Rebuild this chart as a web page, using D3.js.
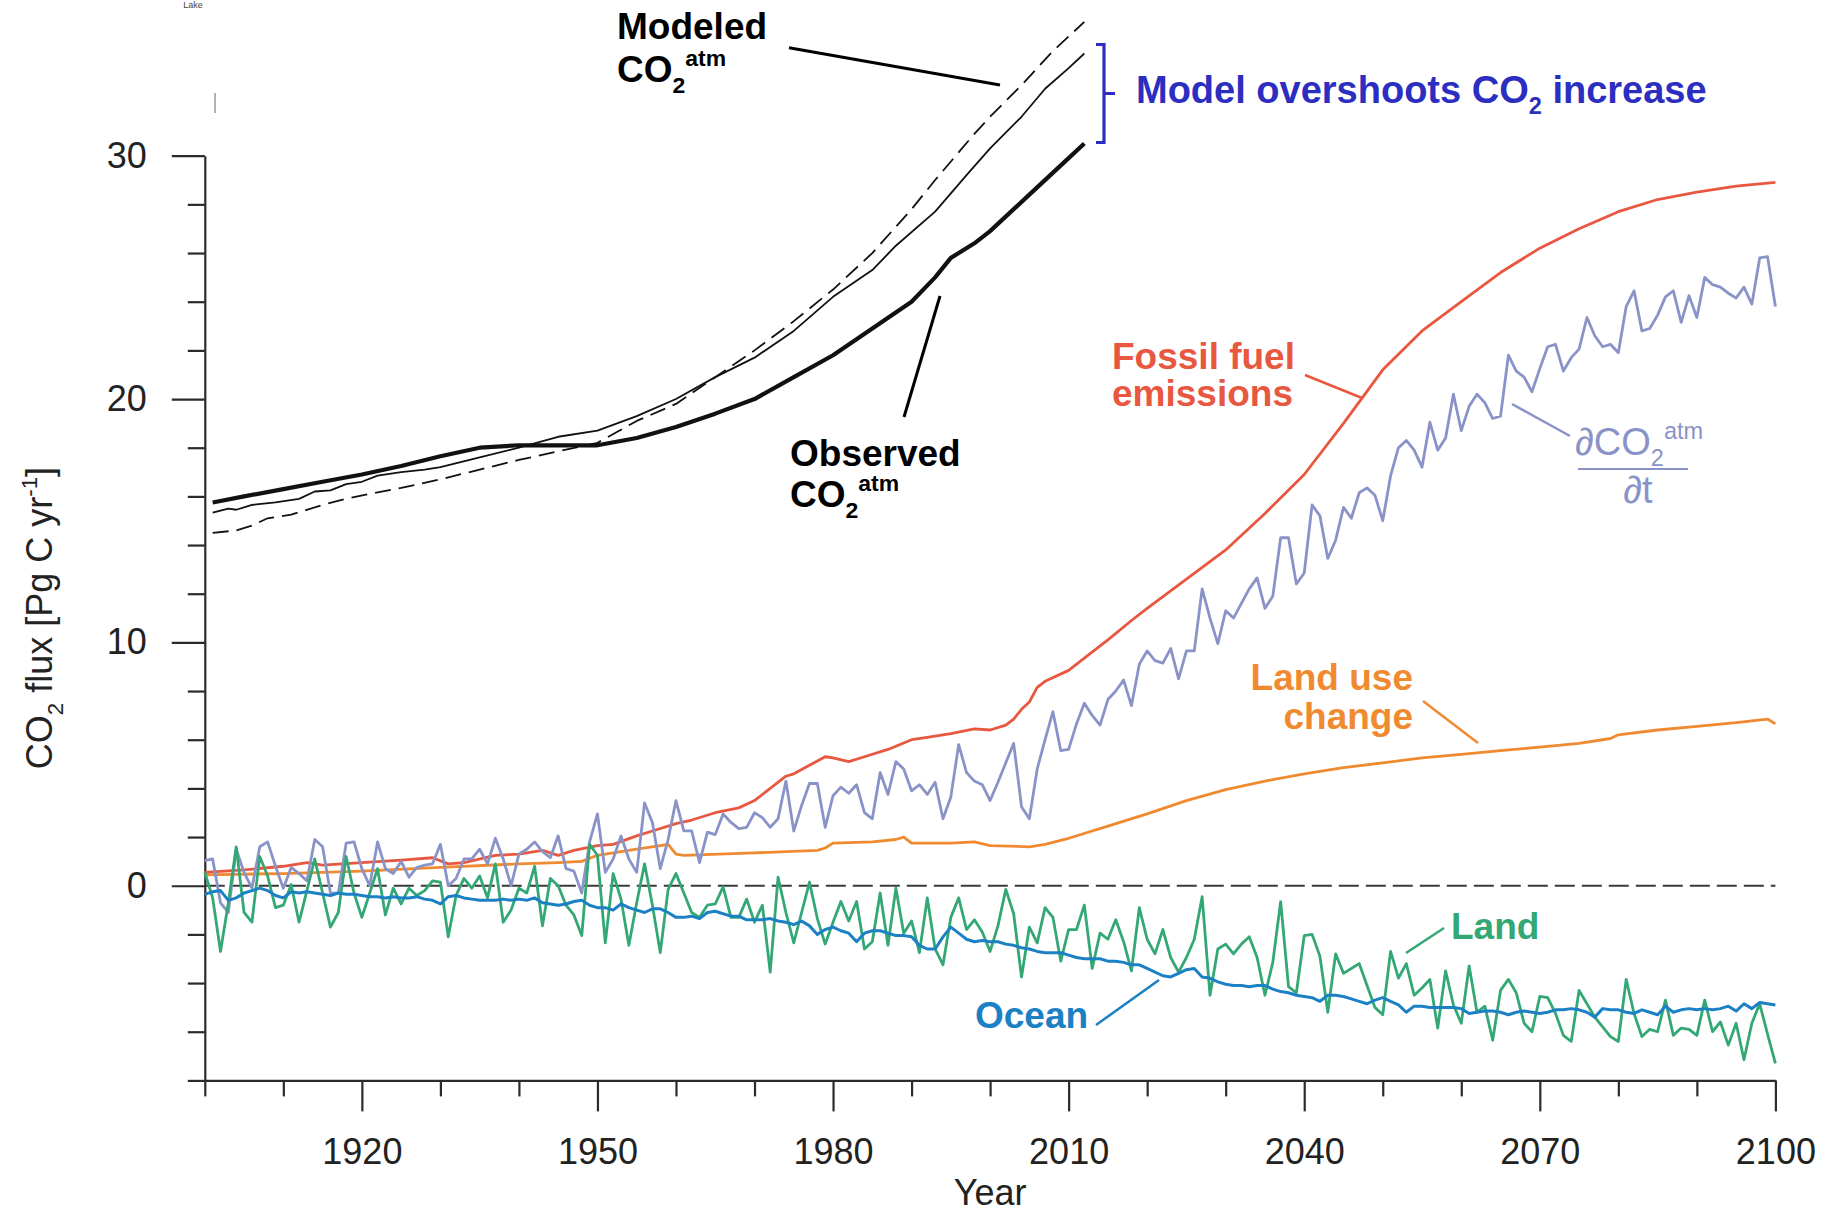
<!DOCTYPE html>
<html>
<head>
<meta charset="utf-8">
<script src="https://cdn.jsdelivr.net/npm/d3@7"></script>
<style>
  html, body { margin: 0; padding: 0; background: #fff; }
  svg { display: block; font-family: "Liberation Sans", Arial, Helvetica, sans-serif; }
</style>
</head>
<body>
<svg id="chart" width="1835" height="1215"></svg>
<script>
// ---- data -------------------------------------------------------------
const firstYear = 1900;
const lastYear = 2100;
const years = d3.range(firstYear, lastYear + 1);

// atmospheric CO2 growth rate (Pg C / yr), one value per year 1900-2100
const dCO2dt = [
  1.03, 1.1, -0.7, -1.1, 1.5, 0.55, -0.1, 1.6, 1.8, 0.8,
  -0.1, 0.75, 0.5, 0.2, 1.9, 1.6, -0.3, -0.3, 1.75, 1.8,
  0.7, 0.0, 1.8, 0.7, 0.5, 1.0, 0.35, 0.75, 0.85, 0.9,
  1.7, 0.0, 0.3, 1.1, 1.1, 1.5, 0.9, 1.95, 1.1, 0.0,
  1.3, 1.5, 1.8, 1.4, 1.15, 2.05, 0.7, 0.6, -0.3, 1.8,
  2.95, 0.55, 1.1, 2.05, 1.1, 0.55, 3.4, 2.6, 0.7, 1.9,
  3.5, 2.25, 2.25, 0.95, 2.2, 2.1, 2.95, 2.6, 2.35, 2.4,
  3.0, 2.8, 2.4, 2.75, 4.3, 2.25, 3.3, 4.2, 4.2, 2.4,
  3.7, 4.05, 3.8, 4.15, 3.0, 2.75, 4.65, 3.75, 5.1, 4.8,
  3.9, 4.15, 3.75, 4.25, 2.75, 3.65, 5.8, 4.65, 4.3, 4.15,
  3.5, 4.25, 5.05, 5.85, 3.25, 2.75, 4.8, 6.0, 7.15, 5.55,
  5.6, 6.65, 7.5, 7.0, 6.6, 7.65, 8.0, 8.45, 7.4, 9.1,
  9.65, 9.25, 9.15, 9.75, 8.5, 9.65, 9.65, 12.2, 11.0, 9.95,
  11.3, 11.0, 11.6, 12.2, 12.65, 11.4, 11.9, 14.3, 14.3, 12.4,
  12.85, 15.65, 15.2, 13.45, 14.2, 15.55, 15.1, 16.15, 16.35, 16.05,
  15.0, 16.85, 18.0, 18.3, 17.9, 17.2, 19.05, 17.9, 18.4, 20.2,
  18.7, 19.7, 20.2, 19.85, 19.2, 19.3, 21.8, 21.15, 20.9, 20.3,
  21.25, 22.15, 22.25, 21.15, 21.7, 22.05, 23.35, 22.6, 22.15, 22.25,
  21.9, 23.8, 24.45, 22.8, 22.9, 23.45, 24.2, 24.45, 23.15, 24.25,
  23.35, 25.0, 24.7, 24.6, 24.35, 24.15, 24.6, 23.9, 25.8, 25.85,
  23.8
];

// land sink (Pg C / yr), one value per year 1900-2100
const landFlux = [
  0.55, -0.5, -2.7, -0.7, 1.6, -1.1, -1.5, 1.2, 0.4, -0.9,
  -0.8, 0.05, -1.5, -0.2, 1.1, -0.3, -1.7, -1.1, 1.2, -0.3,
  -1.3, -0.3, 0.7, -1.2, -0.1, -0.75, -0.1, -0.4, -0.2, 0.2,
  0.15, -2.1, -0.4, 0.3, -0.1, 0.4, -0.5, 0.9, -1.5, -1.0,
  -0.1, -0.3, 0.8, -1.65, 0.3, 0.0, -0.8, -1.2, -2.05, 1.7,
  1.25, -2.35, 0.5, -0.55, -2.45, -0.7, 0.9, -0.8, -2.75, -0.15,
  0.5, -0.3, -1.1, -1.3, -0.8, -0.75, -0.05, -1.3, -1.3, -0.55,
  -1.5, -0.8, -3.55, 0.35, -1.1, -2.35, -1.1, 0.15, -1.35, -2.4,
  -1.5, -0.65, -1.45, -0.65, -2.6, -2.3, -0.3, -2.45, -0.1, -1.95,
  -1.45, -2.75, -0.5, -2.6, -3.25, -1.3, -0.5, -1.8, -1.4, -1.9,
  -2.7, -1.65, -0.15, -1.15, -3.75, -1.7, -2.35, -0.9, -1.3, -3.1,
  -1.8, -1.8, -0.8, -3.4, -1.95, -2.2, -1.4, -2.3, -3.5, -0.9,
  -2.2, -2.8, -1.8, -2.95, -3.55, -2.95, -2.2, -0.45, -4.5, -2.6,
  -2.4, -2.8, -2.4, -2.1, -2.95, -4.5, -3.15, -0.65, -4.15, -4.4,
  -2.05, -2.0, -2.9, -5.2, -2.8, -3.6, -3.4, -3.2, -4.1, -5.0,
  -5.3, -2.7, -3.8, -3.2, -4.5, -4.2, -3.85, -5.85, -3.5, -4.9,
  -5.65, -3.3, -5.2, -4.95, -6.35, -4.3, -3.85, -4.4, -5.65, -6.0,
  -4.55, -4.6, -5.25, -6.15, -6.4, -4.3, -4.85, -5.4, -5.8, -6.2,
  -6.4, -3.85, -5.25, -6.2, -5.9, -6.0, -4.7, -6.15, -5.85, -5.9,
  -6.15, -4.7, -6.0, -5.6, -6.55, -5.65, -7.15, -5.65, -4.85, -6.1,
  -7.3
];

// ocean sink (Pg C / yr), one value per year 1900-2100
const oceanFlux = [
  -0.35, -0.25, -0.2, -0.6, -0.5, -0.3, -0.2, -0.1, -0.2, -0.4,
  -0.5, -0.25, -0.3, -0.25, -0.3, -0.35, -0.4, -0.3, -0.35, -0.35,
  -0.4, -0.45, -0.45, -0.5, -0.45, -0.5, -0.5, -0.45, -0.55, -0.6,
  -0.75, -0.45, -0.4, -0.5, -0.55, -0.6, -0.6, -0.6, -0.55, -0.6,
  -0.55, -0.6, -0.5, -0.7, -0.75, -0.8, -0.75, -0.65, -0.6, -0.8,
  -0.9, -0.9, -1.0, -0.75, -0.9, -1.0, -1.1, -0.95, -0.95, -1.1,
  -1.3, -1.3, -1.25, -1.35, -1.1, -1.05, -1.15, -1.25, -1.25, -1.4,
  -1.4, -1.4, -1.35, -1.45, -1.5, -1.6, -1.45, -1.65, -2.0, -1.8,
  -1.7, -1.85, -1.95, -2.3, -1.95, -1.85, -1.85, -1.95, -2.05, -2.05,
  -2.1, -2.45, -2.6, -2.6, -2.1, -1.7, -1.95, -2.2, -2.3, -2.25,
  -2.3, -2.3, -2.4, -2.45, -2.55, -2.6, -2.7, -2.75, -2.75, -2.75,
  -2.85, -2.95, -3.0, -3.0, -3.0, -3.1, -3.1, -3.15, -3.25, -3.25,
  -3.4, -3.55, -3.7, -3.75, -3.6, -3.45, -3.4, -3.75, -3.8, -3.95,
  -4.05, -4.1, -4.1, -4.15, -4.1, -4.1, -4.25, -4.35, -4.4, -4.5,
  -4.55, -4.6, -4.75, -4.5, -4.5, -4.55, -4.65, -4.75, -4.85, -4.7,
  -4.6, -4.75, -4.9, -5.2, -4.95, -4.95, -5.0, -5.0, -5.0, -5.0,
  -5.05, -5.25, -5.2, -5.15, -5.15, -5.2, -5.3, -5.2, -5.15, -5.2,
  -5.25, -5.2, -5.1, -5.1, -5.05, -5.1, -5.2, -5.4, -5.05, -5.1,
  -5.1, -5.2, -5.25, -5.1, -5.2, -5.3, -4.95, -5.2, -5.1, -5.05,
  -5.1, -5.05, -5.1, -5.05, -4.95, -5.15, -4.85, -5.05, -4.8, -4.85,
  -4.9
];

// fossil fuel emissions (Pg C / yr), [year, value]
const fossilFuel = [
  [1900, 0.55], [1905, 0.65], [1910, 0.8], [1913, 0.95], [1915, 0.85], [1920, 0.95],
  [1925, 1.05], [1929, 1.15], [1931, 0.9], [1933, 0.95], [1937, 1.25], [1940, 1.3],
  [1943, 1.45], [1945, 1.25], [1947, 1.45], [1950, 1.65], [1952, 1.7], [1955, 2.05],
  [1957, 2.25], [1960, 2.55], [1962, 2.7], [1965, 3.0], [1968, 3.2], [1970, 3.5],
  [1972, 4.0], [1974, 4.5], [1975, 4.6], [1977, 4.95], [1979, 5.3], [1980, 5.25],
  [1982, 5.1], [1984, 5.3], [1987, 5.6], [1990, 6.0], [1992, 6.1], [1995, 6.25],
  [1998, 6.45], [2000, 6.4], [2002, 6.6], [2003, 6.85], [2004, 7.25], [2005, 7.55],
  [2006, 8.15], [2007, 8.4], [2010, 8.85], [2012, 9.35], [2015, 10.1], [2018, 10.9],
  [2020, 11.4], [2025, 12.6], [2030, 13.8], [2035, 15.3], [2040, 16.9], [2045, 19.0],
  [2050, 21.2], [2055, 22.8], [2060, 24.0], [2065, 25.2], [2070, 26.2], [2075, 27.0],
  [2080, 27.7], [2085, 28.2], [2090, 28.5], [2095, 28.75], [2100, 28.9]
];

// land use change emissions (Pg C / yr), [year, value]
const landUse = [
  [1900, 0.45], [1910, 0.5], [1920, 0.6], [1930, 0.75], [1940, 0.9], [1945, 0.95],
  [1948, 1.0], [1950, 1.25], [1955, 1.5], [1958, 1.65], [1959, 1.7], [1960, 1.3],
  [1961, 1.25], [1970, 1.35], [1978, 1.45], [1979, 1.55], [1980, 1.75], [1985, 1.8],
  [1988, 1.9], [1989, 2.0], [1990, 1.75], [1995, 1.75], [1998, 1.8], [2000, 1.65],
  [2005, 1.6], [2007, 1.7], [2010, 1.95], [2015, 2.45], [2020, 2.95], [2025, 3.5],
  [2030, 3.95], [2035, 4.3], [2040, 4.6], [2045, 4.85], [2050, 5.05], [2055, 5.25],
  [2060, 5.4], [2065, 5.55], [2070, 5.7], [2075, 5.85], [2079, 6.05], [2080, 6.2],
  [2085, 6.4], [2090, 6.55], [2095, 6.7], [2099, 6.85], [2100, 6.65]
];

// atmospheric CO2 curves, [year, value]
const observedCO2 = [
  [1901, 15.75], [1905, 16.0], [1910, 16.3], [1915, 16.6], [1920, 16.9], [1925, 17.25],
  [1930, 17.65], [1935, 18.0], [1940, 18.1], [1945, 18.1], [1950, 18.1], [1955, 18.4],
  [1960, 18.85], [1965, 19.4], [1970, 20.0], [1975, 20.9], [1980, 21.8], [1985, 22.9],
  [1990, 24.0], [1993, 25.0], [1995, 25.8], [1998, 26.4], [2000, 26.9], [2005, 28.4],
  [2010, 29.9], [2012, 30.5]
];
const modeledCO2 = [
  [1901, 15.33], [1903, 15.5], [1904, 15.45], [1906, 15.65], [1909, 15.75], [1912, 15.9],
  [1914, 16.2], [1916, 16.25], [1918, 16.5], [1920, 16.6], [1922, 16.85], [1925, 17.0],
  [1928, 17.1], [1930, 17.2], [1935, 17.6], [1940, 18.0], [1945, 18.45], [1950, 18.7],
  [1955, 19.3], [1960, 20.0], [1965, 20.9], [1970, 21.7], [1975, 22.8], [1980, 24.2],
  [1985, 25.3], [1988, 26.3], [1993, 27.7], [1997, 29.2], [2000, 30.3], [2004, 31.6],
  [2007, 32.75], [2010, 33.6], [2012, 34.2]
];
const modeledCO2Alt = [
  [1901, 14.5], [1904, 14.6], [1906, 14.8], [1908, 15.1], [1911, 15.25], [1912, 15.35],
  [1915, 15.65], [1918, 15.9], [1921, 16.1], [1925, 16.35], [1930, 16.7], [1935, 17.1],
  [1940, 17.5], [1945, 17.85], [1950, 18.2], [1955, 19.1], [1960, 19.8], [1965, 20.9],
  [1970, 22.0], [1975, 23.2], [1980, 24.5], [1985, 26.0], [1990, 27.8], [1993, 29.0],
  [1998, 30.9], [2000, 31.6], [2004, 32.9], [2008, 34.3], [2012, 35.5]
];

// axis ticks
const yMajorTicks = [0, 10, 20, 30];
const yMinorTicks = [-8, -6, -4, -2, 2, 4, 6, 8, 12, 14, 16, 18, 22, 24, 26, 28];
const xMajorTicks = [1920, 1950, 1980, 2010, 2040, 2070, 2100];
const xMinorTicks = [1900, 1910, 1930, 1940, 1960, 1970, 1990, 2000, 2020, 2030, 2050, 2060, 2080, 2090];

// ---- drawing ----------------------------------------------------------
const svg = d3.select("#chart");
const FONT = '"Liberation Sans", Arial, Helvetica, sans-serif';

const x = d3.scaleLinear().domain([firstYear, lastYear]).range([204.8, 1775.4]);
const y = d3.scaleLinear().domain([-8, 30]).range([1080.4, 155.7]);

const AXIS_COLOR = "#2b2b2b";

// y axis: minor ticks, then major ticks with labels and the axis line
const yMinor = svg.append("g").attr("transform", `translate(${x(firstYear)},0)`)
  .call(d3.axisLeft(y).tickValues(yMinorTicks).tickSize(17).tickSizeOuter(0).tickFormat(""));
yMinor.select(".domain").remove();
const yMajor = svg.append("g").attr("transform", `translate(${x(firstYear)},0)`)
  .call(d3.axisLeft(y).tickValues(yMajorTicks).tickSize(33).tickSizeOuter(0).tickPadding(25));

// x axis
const xMinor = svg.append("g").attr("transform", `translate(0,${y(-8)})`)
  .call(d3.axisBottom(x).tickValues(xMinorTicks).tickSize(16).tickSizeOuter(0).tickFormat(""));
xMinor.select(".domain").remove();
const xMajor = svg.append("g").attr("transform", `translate(0,${y(-8)})`)
  .call(d3.axisBottom(x).tickValues(xMajorTicks).tickSize(31).tickSizeOuter(0).tickPadding(27).tickFormat(d3.format("d")));

svg.selectAll(".tick line, .domain").attr("stroke", AXIS_COLOR).attr("stroke-width", 2.2);
svg.selectAll(".tick text").attr("font-family", FONT).attr("font-size", 36).attr("fill", "#222");

// zero reference line
svg.append("line")
  .attr("x1", x(firstYear)).attr("x2", x(lastYear))
  .attr("y1", y(0)).attr("y2", y(0))
  .attr("stroke", "#3a3a3a").attr("stroke-width", 2).attr("stroke-dasharray", "20,7");

// helper: text with sub/superscript parts
function rich(textSel, parts, size) {
  let off = 0;
  parts.forEach(p => {
    const shift = p.sub ? size * 0.3 : p.sup ? -size * 0.42 : 0;
    textSel.append("tspan")
      .attr("dy", shift - off)
      .attr("font-size", (p.sub || p.sup) ? size * 0.62 : size)
      .text(p.t);
    off = shift;
  });
  return textSel;
}

// axis titles
svg.append("text")
  .attr("x", x(2000)).attr("y", 1205)
  .attr("text-anchor", "middle").attr("font-family", FONT).attr("font-size", 36).attr("fill", "#222")
  .text("Year");

rich(svg.append("text")
  .attr("transform", `translate(52,${(y(30) + y(-8)) / 2}) rotate(-90)`)
  .attr("text-anchor", "middle").attr("font-family", FONT).attr("fill", "#222"),
  [{ t: "CO" }, { t: "2", sub: true }, { t: " flux [Pg C yr" }, { t: "-1", sup: true }, { t: "]" }], 36);

// series
const seriesLine = d3.line().x(d => x(d[0])).y(d => y(d[1]));
const annual = vals => years.map((yr, i) => [yr, vals[i]]);

const plot = svg.append("g").attr("fill", "none").attr("stroke-linejoin", "round");

plot.append("path").datum(modeledCO2Alt).attr("d", seriesLine)
  .attr("stroke", "#111").attr("stroke-width", 1.8).attr("stroke-dasharray", "16,8");
plot.append("path").datum(modeledCO2).attr("d", seriesLine)
  .attr("stroke", "#111").attr("stroke-width", 1.8);
plot.append("path").datum(observedCO2).attr("d", seriesLine)
  .attr("stroke", "#111").attr("stroke-width", 4.2);

const COLORS = {
  landUse: "#f08a30",
  fossil: "#e8573f",
  dco2: "#8a93c8",
  land: "#33a874",
  ocean: "#1b80c4",
  note: "#2b2ec0"
};

plot.append("path").datum(landUse).attr("d", seriesLine)
  .attr("stroke", COLORS.landUse).attr("stroke-width", 2.8);
plot.append("path").datum(fossilFuel).attr("d", seriesLine)
  .attr("stroke", COLORS.fossil).attr("stroke-width", 2.8);
plot.append("path").datum(annual(dCO2dt)).attr("d", seriesLine)
  .attr("stroke", COLORS.dco2).attr("stroke-width", 2.8);
plot.append("path").datum(annual(landFlux)).attr("d", seriesLine)
  .attr("stroke", COLORS.land).attr("stroke-width", 2.8);
plot.append("path").datum(annual(oceanFlux)).attr("d", seriesLine)
  .attr("stroke", COLORS.ocean).attr("stroke-width", 3);

// ---- annotations --------------------------------------------------------
const ann = svg.append("g").attr("font-family", FONT).attr("font-weight", "bold");

function leader(x1, y1, x2, y2, color, w) {
  svg.append("line").attr("x1", x1).attr("y1", y1).attr("x2", x2).attr("y2", y2)
    .attr("stroke", color).attr("stroke-width", w);
}

// modeled CO2
ann.append("text").attr("x", 617).attr("y", 39).attr("font-size", 37).attr("fill", "#000").text("Modeled");
rich(ann.append("text").attr("x", 617).attr("y", 82).attr("fill", "#000"),
  [{ t: "CO" }, { t: "2", sub: true }, { t: "atm", sup: true }], 37);
leader(789, 47.7, 1000, 85, "#000", 3);

// observed CO2
ann.append("text").attr("x", 790).attr("y", 466).attr("font-size", 37).attr("fill", "#000").text("Observed");
rich(ann.append("text").attr("x", 790).attr("y", 507).attr("fill", "#000"),
  [{ t: "CO" }, { t: "2", sub: true }, { t: "atm", sup: true }], 37);
leader(940, 296, 904, 417, "#000", 3);

// overshoot bracket and note
svg.append("path")
  .attr("d", "M1096,44.5 H1104 V142.5 H1096 M1104,93.5 H1115")
  .attr("fill", "none").attr("stroke", COLORS.note).attr("stroke-width", 3.2);
rich(ann.append("text").attr("x", 1136).attr("y", 103).attr("fill", COLORS.note),
  [{ t: "Model overshoots CO" }, { t: "2", sub: true }, { t: " increase" }], 38);

// fossil fuel
ann.append("text").attr("x", 1112).attr("y", 369).attr("font-size", 37).attr("fill", COLORS.fossil).text("Fossil fuel");
ann.append("text").attr("x", 1112).attr("y", 406).attr("font-size", 37).attr("fill", COLORS.fossil).text("emissions");
leader(1305, 375, 1362, 398, COLORS.fossil, 2.5);

// land use change
ann.append("text").attr("x", 1413).attr("y", 690).attr("text-anchor", "end").attr("font-size", 37).attr("fill", COLORS.landUse).text("Land use");
ann.append("text").attr("x", 1413).attr("y", 729).attr("text-anchor", "end").attr("font-size", 37).attr("fill", COLORS.landUse).text("change");
leader(1423, 701, 1478, 743, COLORS.landUse, 2.5);

// growth rate fraction
const frac = svg.append("g").attr("font-family", FONT).attr("fill", COLORS.dco2);
rich(frac.append("text").attr("x", 1575).attr("y", 455),
  [{ t: "\u2202CO" }, { t: "2", sub: true }, { t: "atm", sup: true }], 38);
frac.append("line").attr("x1", 1578).attr("x2", 1688).attr("y1", 469).attr("y2", 469)
  .attr("stroke", COLORS.dco2).attr("stroke-width", 2.2);
frac.append("text").attr("x", 1638).attr("y", 503).attr("text-anchor", "middle").attr("font-size", 38).text("\u2202t");
leader(1512, 404, 1570, 436, COLORS.dco2, 2.5);

// land and ocean
ann.append("text").attr("x", 1451).attr("y", 939).attr("font-size", 37).attr("fill", COLORS.land).text("Land");
leader(1444, 928, 1406, 953, COLORS.land, 2.5);
ann.append("text").attr("x", 975).attr("y", 1028).attr("font-size", 37).attr("fill", COLORS.ocean).text("Ocean");
leader(1096, 1025, 1159, 980, COLORS.ocean, 2.5);

// stray marks along the top edge
svg.append("text").attr("x", 193).attr("y", 8).attr("text-anchor", "middle")
  .attr("font-family", FONT).attr("font-size", 9).attr("fill", "#444").text("Lake");
svg.append("line").attr("x1", 215).attr("x2", 215).attr("y1", 93).attr("y2", 113)
  .attr("stroke", "#999").attr("stroke-width", 1.5);
</script>
</body>
</html>
